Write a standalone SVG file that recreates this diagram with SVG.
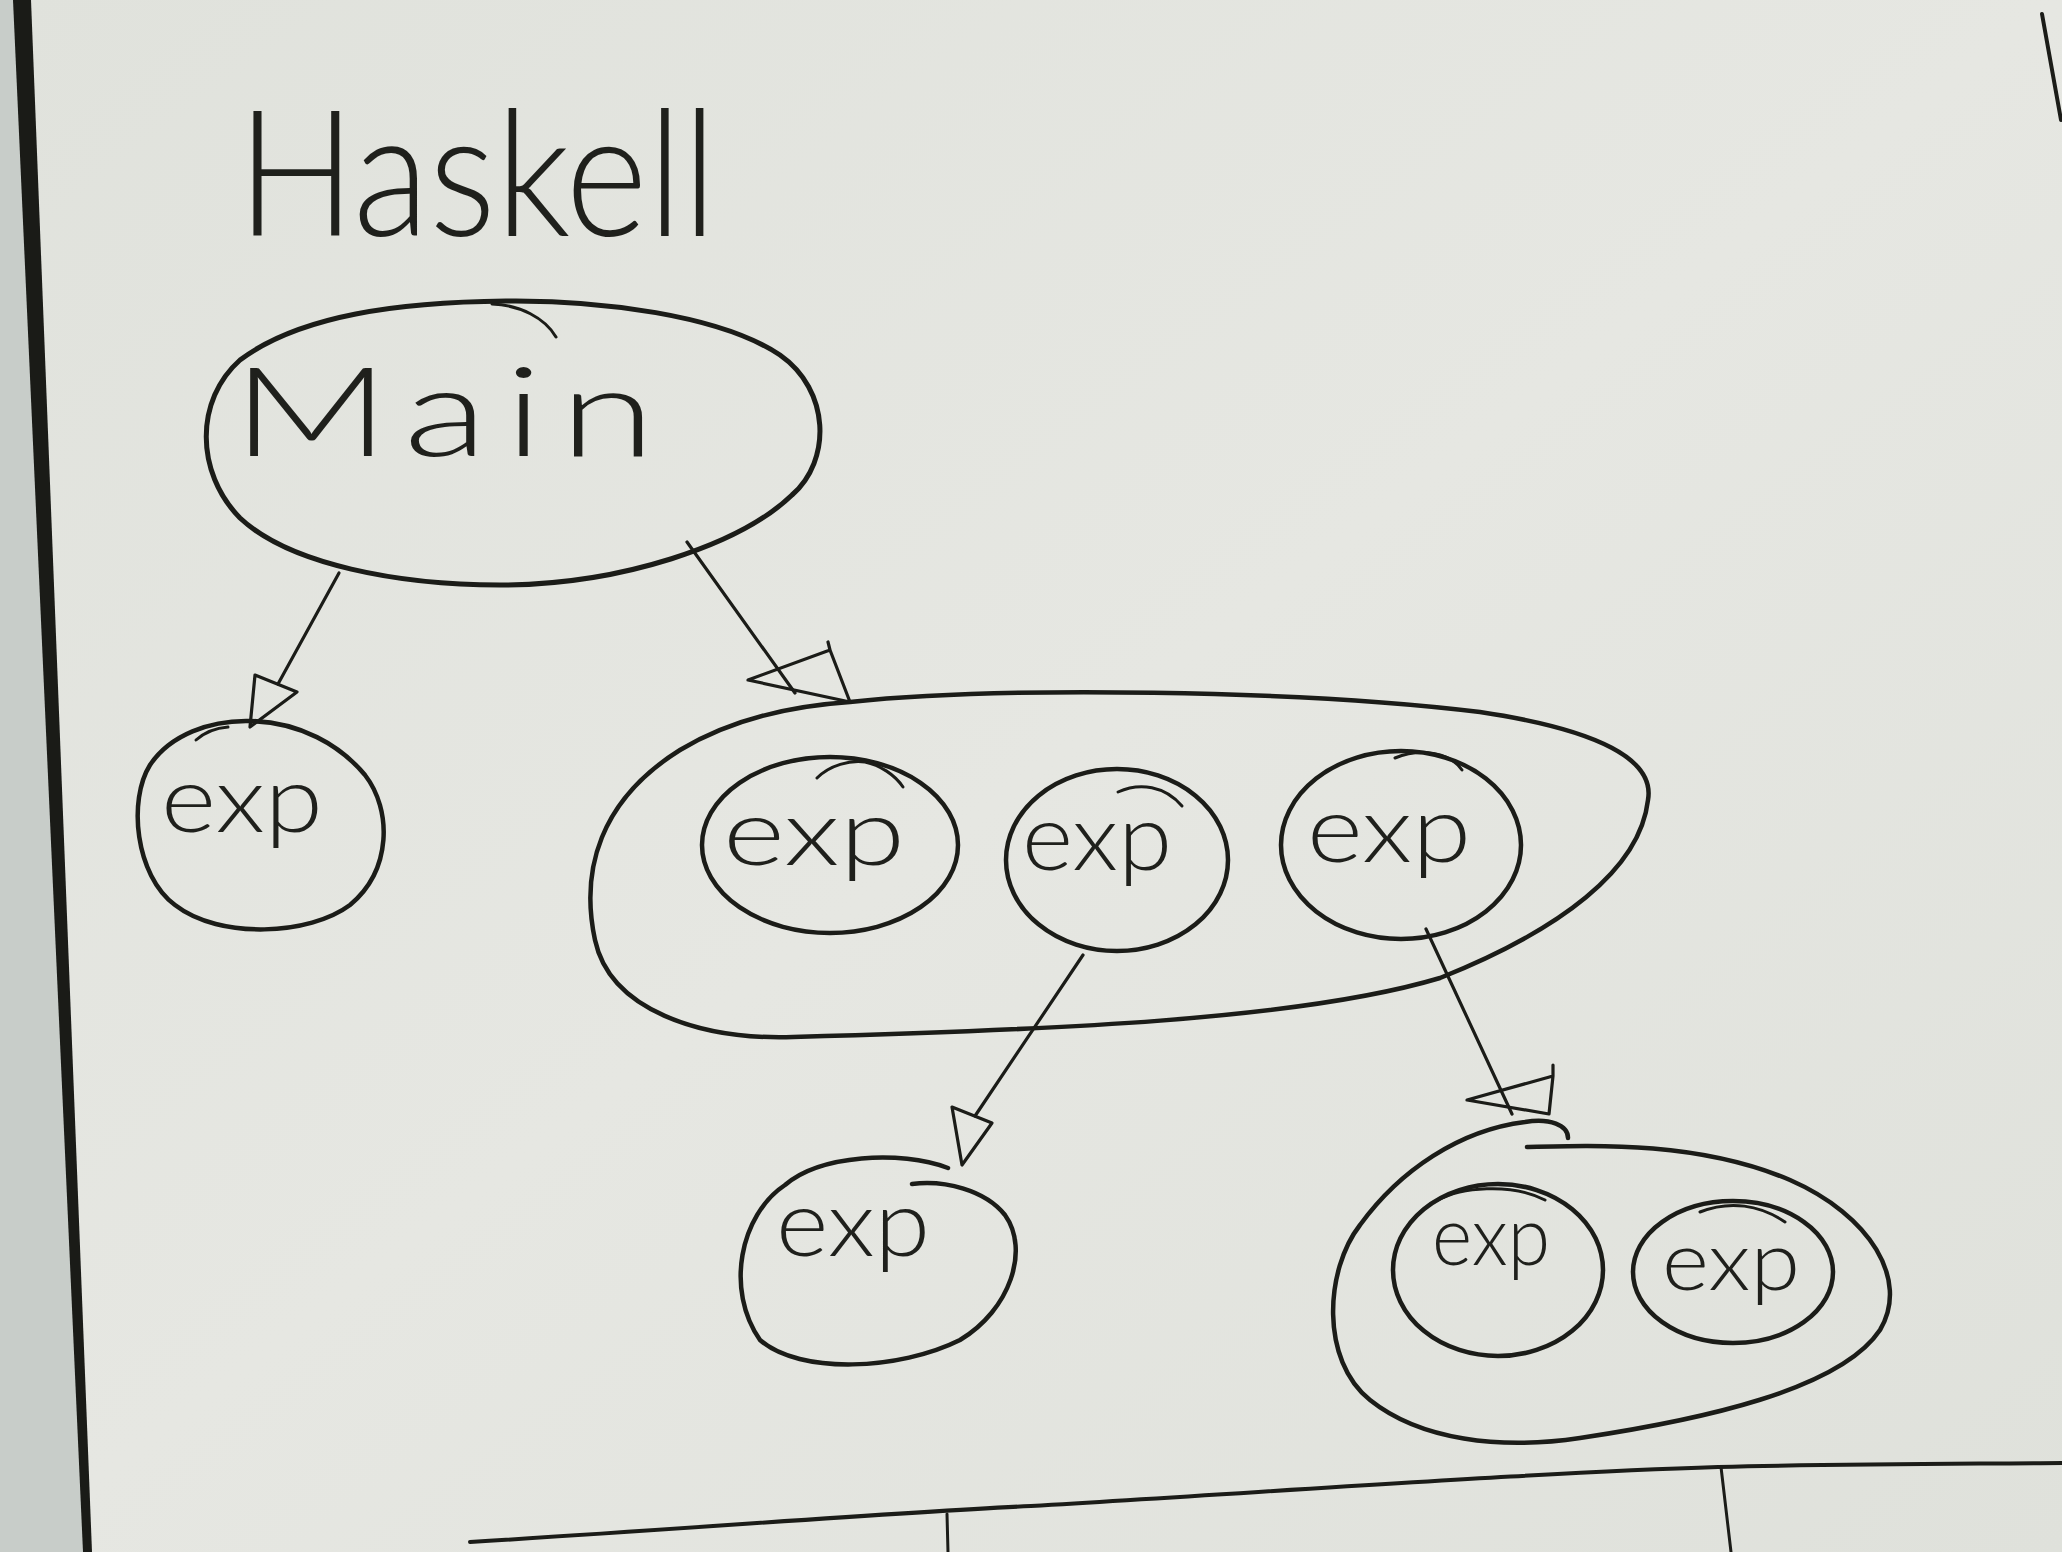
<svg xmlns="http://www.w3.org/2000/svg" width="2062" height="1552" viewBox="0 0 2062 1552">
<defs>
<style>
.ink{fill:none;stroke:#1b1c18;stroke-linecap:round;stroke-linejoin:round}
.node{stroke-width:4.5}
.thin{stroke-width:3}
.conn{stroke-width:3.2}
.lbl{font-family:Lato,"DejaVu Sans","Liberation Sans",sans-serif;font-weight:300;fill:#1f201c}
.exp{font-size:92px}
.exps{font-size:82px}
</style>
<linearGradient id="paper" x1="0" y1="0" x2="1" y2="1">
<stop offset="0" stop-color="#e0e2dc"/>
<stop offset="0.5" stop-color="#e6e7e2"/>
<stop offset="1" stop-color="#dfe1db"/>
</linearGradient>
</defs>
<rect x="0" y="0" width="2062" height="1552" fill="url(#paper)"/>
<polygon points="0,0 14,0 85,1552 0,1552" fill="#c8cdc9"/>
<polygon points="13,0 31,0 92,1552 83,1552" fill="#1a1b17"/>
<line class="ink" x1="2042" y1="14" x2="2061" y2="120" stroke-width="4"/>

<g id="title">
<text class="lbl" x="237" y="236" font-size="175" textLength="480" lengthAdjust="spacingAndGlyphs">Haskell</text>
</g>

<g id="main">
<path class="ink" stroke-width="5" d="M506 301 C600 300 720 315 780 355 C830 390 832 460 792 495 C740 545 620 585 500 585 C400 585 290 565 240 518 C195 472 195 400 240 360 C300 315 400 302 506 301 Z"/>
<path class="ink thin" d="M492 304 C520 305 545 318 556 337"/>
<text class="lbl" x="232" y="456" font-size="125" letter-spacing="12" textLength="440" lengthAdjust="spacingAndGlyphs">Main</text>
</g>

<g id="exp-left">
<path class="ink node" d="M250 721 C300 722 340 745 365 775 C392 810 392 870 350 905 C310 935 220 940 175 905 C135 875 128 800 150 765 C170 735 210 720 250 721 Z"/>
<path class="ink thin" d="M196 740 C205 732 215 728 228 727"/>
<text class="lbl exp" x="161" y="832" textLength="162" lengthAdjust="spacingAndGlyphs">exp</text>
</g>

<g id="group-1">
<path class="ink node" d="M850 702 C1000 686 1300 690 1480 712 C1600 730 1655 760 1648 800 C1640 870 1560 930 1440 978 C1300 1020 1050 1030 793 1037 C700 1040 610 1010 595 940 C580 870 600 800 680 750 C730 720 790 706 850 702 Z"/>
</g>

<g id="exp-1">
<ellipse class="ink node" cx="830" cy="845" rx="128" ry="88"/>
<path class="ink thin" d="M817 778 C830 765 850 760 865 762 C880 765 895 775 903 787"/>
<text class="lbl exp" x="723" y="865" textLength="182" lengthAdjust="spacingAndGlyphs">exp</text>
</g>

<g id="exp-2">
<ellipse class="ink node" cx="1117" cy="860" rx="111" ry="91"/>
<path class="ink thin" d="M1118 792 C1140 782 1165 786 1182 806"/>
<text class="lbl exp" x="1022" y="870" textLength="150" lengthAdjust="spacingAndGlyphs">exp</text>
</g>

<g id="exp-3">
<ellipse class="ink node" cx="1401" cy="845" rx="120" ry="94"/>
<path class="ink thin" d="M1395 758 C1420 748 1450 752 1462 770"/>
<text class="lbl exp" x="1307" y="862" textLength="164" lengthAdjust="spacingAndGlyphs">exp</text>
</g>

<g id="exp-4">
<path class="ink node" d="M948 1168 C900 1150 820 1155 785 1185 C740 1215 725 1290 760 1340 C800 1375 900 1370 960 1340 C1010 1310 1030 1250 1005 1215 C985 1190 945 1180 912 1184"/>
<text class="lbl exp" x="776" y="1256" textLength="154" lengthAdjust="spacingAndGlyphs">exp</text>
</g>

<g id="group-2">
<path class="ink node" d="M1527 1147 C1600 1145 1700 1142 1790 1180 C1870 1215 1910 1280 1880 1330 C1840 1390 1700 1420 1580 1438 C1500 1450 1420 1440 1370 1400 C1320 1360 1325 1270 1360 1225 C1400 1170 1460 1130 1525 1122 C1550 1118 1568 1125 1568 1138"/>
</g>

<g id="exp-5">
<ellipse class="ink node" cx="1498" cy="1270" rx="105" ry="86"/>
<path class="ink thin" d="M1438 1200 C1460 1188 1510 1182 1545 1200"/>
<text class="lbl exps" x="1432" y="1265" textLength="118" lengthAdjust="spacingAndGlyphs">exp</text>
</g>

<g id="exp-6">
<ellipse class="ink node" cx="1733" cy="1272" rx="100" ry="71"/>
<path class="ink thin" d="M1700 1212 C1730 1200 1760 1205 1785 1222"/>
<text class="lbl exps" x="1662" y="1290" textLength="138" lengthAdjust="spacingAndGlyphs">exp</text>
</g>

<g id="connectors">
<path class="ink conn" d="M339 573 L278 684"/>
<path class="ink conn" d="M255 675 L297 692 L250 727 Z"/>
<path class="ink conn" d="M687 542 L795 693"/>
<path class="ink conn" d="M748 680 L830 650 L850 702 Z M830 650 L828 642"/>
<path class="ink conn" d="M1083 955 L975 1116"/>
<path class="ink conn" d="M952 1107 L992 1123 L962 1165 Z"/>
<path class="ink conn" d="M1426 929 L1512 1114"/>
<path class="ink conn" d="M1467 1100 L1553 1076 L1549 1114 Z M1553 1076 L1553 1065"/>
</g>

<g id="table">
<path class="ink" stroke-width="4" d="M470 1542 C700 1528 900 1512 1031 1506 C1300 1490 1550 1472 1718 1467 C1850 1464 1950 1464 2062 1463"/>
<path class="ink thin" d="M947 1514 L948 1552"/>
<path class="ink thin" d="M1721 1467 L1731 1552"/>
</g>
</svg>
